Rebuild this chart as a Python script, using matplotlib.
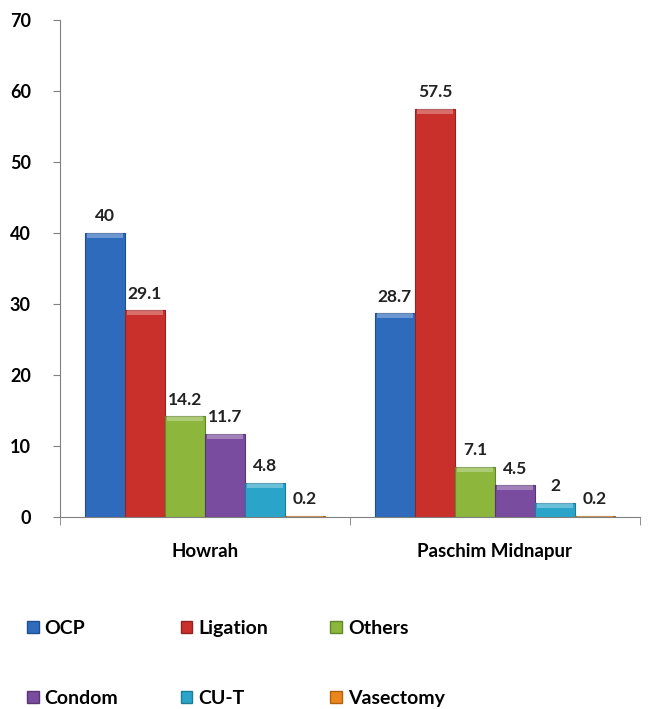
import matplotlib

matplotlib.use("Agg")
import matplotlib.pyplot as plt
import numpy as np
from matplotlib.patches import Patch

plt.rcParams["font.family"] = ["Lato", "DejaVu Sans"]

districts = ["Howrah", "Paschim Midnapur"]
methods = ["OCP", "Ligation", "Others", "Condom", "CU-T", "Vasectomy"]
values = {
    "OCP": [40, 28.7],
    "Ligation": [29.1, 57.5],
    "Others": [14.2, 7.1],
    "Condom": [11.7, 4.5],
    "CU-T": [4.8, 2],
    "Vasectomy": [0.2, 0.2],
}
colors = ["#2f6bbd", "#c9302c", "#8cb73c", "#7a4c9f", "#2aa5c9", "#e9861d"]
edges = ["#1f4f8f", "#962220", "#62862a", "#573773", "#1d7c98", "#b0620f"]

fig = plt.figure(figsize=(6.48, 7.09), dpi=100)
ax = fig.add_axes([0.0926, 0.2708, 0.895, 0.701])

x = np.arange(len(districts))
w = 0.138
for i, m in enumerate(methods):
    pos = x + (i - 2.5) * w
    vals = values[m]
    ax.bar(pos, vals, width=w, color=colors[i], edgecolor=edges[i], linewidth=0.8, zorder=2)
    # light top bevel
    ax.bar(pos, [min(0.7, v) for v in vals], bottom=[v - min(0.7, v) for v in vals],
           width=w * 0.9, color="white", alpha=0.3, linewidth=0, zorder=3)
    for p, v in zip(pos, vals):
        ax.text(p, v + 1.2, f"{v:g}", ha="center", va="bottom", fontsize=12.5,
                fontweight="bold", color="#222222")

ax.set_xlim(-0.5, 1.5)
ax.set_ylim(0, 70)
ax.set_yticks(range(0, 71, 10))
ax.set_xticks(x)
ax.set_xticklabels(districts, fontsize=13.5, fontweight="bold")
ax.set_xticks([-0.5, 0.5, 1.5], minor=True)
ax.tick_params(axis="x", which="major", length=0, pad=19)
ax.tick_params(axis="x", which="minor", length=6, color="#808080")
ax.tick_params(axis="y", length=5, color="#808080", labelsize=13, pad=16)
for t in ax.get_yticklabels():
    t.set_fontweight("bold")
for s in ["top", "right"]:
    ax.spines[s].set_visible(False)
for s in ["left", "bottom"]:
    ax.spines[s].set_color("#808080")

# legend fills column-wise, so reorder to read row-wise
order = [0, 3, 1, 4, 2, 5]
handles = [Patch(facecolor=colors[k], edgecolor=edges[k], label=methods[k]) for k in order]
fig.legend(handles=handles, ncol=3, loc="lower left", bbox_to_anchor=(0.015, -0.022),
           frameon=False, prop={"weight": "bold", "size": 14},
           handlelength=0.6, handleheight=0.6, handletextpad=0.3,
           columnspacing=3.2, labelspacing=2.75)

fig.savefig("out.png", dpi=100)
